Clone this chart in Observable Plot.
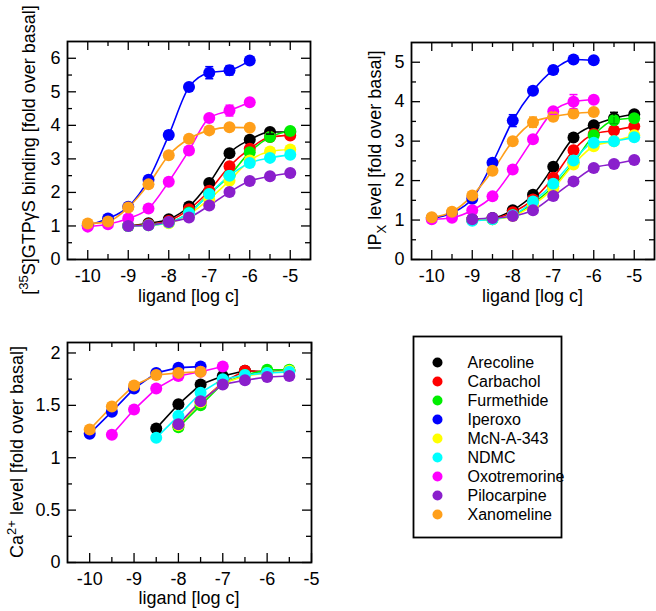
<!DOCTYPE html>
<html><head><meta charset="utf-8">
<script src="https://cdn.jsdelivr.net/npm/d3@7"></script>
<script src="https://cdn.jsdelivr.net/npm/@observablehq/plot@0.6"></script>
<style>
body{margin:0;background:#fff;}
#wrap{position:relative;width:656px;height:611px;font-family:"Liberation Sans",Arial,sans-serif;}
#wrap svg{position:absolute;max-width:none;}
</style></head><body><div id="wrap"></div>
<script>
const ligands = ["Arecoline","Carbachol","Furmethide","Iperoxo","McN-A-343","NDMC","Oxotremorine","Pilocarpine","Xanomeline"];
const colors = ["#000000","#ff0000","#00ee00","#0000ff","#ffff00","#00ffff","#ff00ff","#8a1fcc","#ff9f1a"];
const xs = [-10,-9.5,-9,-8.5,-8,-7.5,-7,-6.5,-6,-5.5,-5];

// [35S]GTPγS binding (fold over basal)
const gtpBinding = {
  "Arecoline":    [null,null,1.00,1.08,1.20,1.58,2.28,3.17,3.57,3.80,3.80],
  "Carbachol":    [null,null,1.00,1.05,1.15,1.50,2.05,2.78,3.30,3.65,3.70],
  "Furmethide":   [null,null,1.00,1.03,1.10,1.40,1.95,2.50,3.20,3.65,3.83],
  "Iperoxo":      [1.02,1.22,1.57,2.38,3.71,5.14,5.57,5.64,5.93,null,null],
  "McN-A-343":    [null,null,1.00,1.02,1.08,1.35,1.80,2.35,2.95,3.22,3.28],
  "NDMC":         [null,null,1.00,1.02,1.10,1.38,1.95,2.50,2.88,3.03,3.12],
  "Oxotremorine": [0.98,1.05,1.22,1.52,2.32,3.25,4.22,4.44,4.69,null,null],
  "Pilocarpine":  [null,null,1.00,1.02,1.12,1.25,1.61,2.01,2.34,2.48,2.58],
  "Xanomeline":   [1.07,1.13,1.55,2.24,3.11,3.60,3.85,3.94,3.93,null,null]
};
const gtpErrors = [["Iperoxo",-8,0.12],["Iperoxo",-7,0.18],["Iperoxo",-6.5,0.14],["Oxotremorine",-6.5,0.16],["Xanomeline",-7,0.08],["Xanomeline",-6.5,0.08],["Carbachol",-6.5,0.08],["Furmethide",-5,0.08],["Arecoline",-5.5,0.06]];

// IPX level (fold over basal)
const ipLevel = {
  "Arecoline":    [null,null,1.02,1.05,1.25,1.64,2.35,3.09,3.40,3.58,3.68],
  "Carbachol":    [null,null,1.00,1.03,1.20,1.52,2.07,2.77,3.18,3.27,3.38],
  "Furmethide":   [null,null,1.00,1.02,1.12,1.42,1.85,2.45,3.15,3.53,3.58],
  "Iperoxo":      [1.05,1.18,1.54,2.45,3.52,4.28,4.80,5.07,5.05,null,null],
  "McN-A-343":    [null,null,1.00,1.02,1.10,1.38,1.80,2.41,2.87,3.00,3.15],
  "NDMC":         [null,null,0.98,1.02,1.12,1.47,1.92,2.51,2.96,3.00,3.10],
  "Oxotremorine": [1.02,1.06,1.25,1.60,2.28,3.05,3.76,4.00,4.05,null,null],
  "Pilocarpine":  [null,null,1.02,1.05,1.10,1.25,1.61,1.98,2.32,2.42,2.52],
  "Xanomeline":   [1.07,1.21,1.62,2.25,3.00,3.48,3.62,3.70,3.74,null,null]
};
const ipErrors = [["Iperoxo",-8,0.15],["Iperoxo",-7,0.1],["Iperoxo",-6.5,0.05],["Oxotremorine",-6.5,0.18],["Oxotremorine",-7,0.08],["Xanomeline",-7.5,0.13],["Xanomeline",-7,0.1],["Xanomeline",-6.5,0.1],["Xanomeline",-6,0.08],["Arecoline",-5.5,0.15],["Pilocarpine",-5.5,0.08],["Furmethide",-5.5,0.1]];

// Ca2+ level (fold over basal)
const caLevel = {
  "Arecoline":    [null,null,null,1.28,1.51,1.70,1.78,1.83,1.82,1.83,null],
  "Carbachol":    [null,null,null,null,1.31,1.53,1.72,1.83,1.82,1.83,null],
  "Furmethide":   [null,null,null,null,1.29,1.50,1.71,1.79,1.84,1.84,null],
  "Iperoxo":      [1.23,1.44,1.66,1.81,1.86,1.87,null,null,null,null,null],
  "McN-A-343":    [null,null,null,null,1.31,1.53,1.71,1.78,1.81,1.83,null],
  "NDMC":         [null,null,null,1.19,1.40,1.62,1.75,1.79,1.81,1.82,null],
  "Oxotremorine": [null,1.22,1.46,1.66,1.78,1.82,1.87,null,null,null,null],
  "Pilocarpine":  [null,null,null,null,1.32,1.54,1.70,1.74,1.77,1.78,null],
  "Xanomeline":   [1.27,1.49,1.69,1.79,1.81,1.82,null,null,null,null,null]
};
const caErrors = [];

const xMajorTicks = [-10,-9,-8,-7,-6,-5];
const xMinorTicks = [-9.5,-8.5,-7.5,-6.5,-5.5];

const FONT = "Liberation Sans, Arial, Helvetica, sans-serif";
const hline = {draw(ctx, size){ const r = Math.sqrt(size/Math.PI); ctx.moveTo(-r,0); ctx.lineTo(r,0); }};

function panel(o) {
  const rows = [];
  for (const lig of ligands) {
    const vals = o.data[lig]; if (!vals) continue;
    vals.forEach((v,i) => { if (v != null) rows.push({ligand: lig, x: xs[i], y: v}); });
  }
  const errRows = o.errors.map(([lig,x,e]) => { const y = o.data[lig][xs.indexOf(x)]; return {ligand: lig, x, y, lo: y-e, hi: y+e}; });
  const m = o.margin;
  const iw = o.width - m.left - m.right, ih = o.height - m.top - m.bottom;
  const fmt = d => String(d);
  const plot = Plot.plot({
    width: o.width, height: o.height,
    marginTop: m.top, marginRight: m.right, marginBottom: m.bottom, marginLeft: m.left,
    x: {domain: o.xDomain}, y: {domain: o.yDomain},
    color: {domain: ligands, range: colors},
    style: {fontSize: "18px", fontFamily: FONT, background: "transparent", overflow: "visible", color: "black"},
    marks: [
      Plot.tickY(o.yMajor, {y: d=>d, insetRight: iw-9, strokeWidth: 1.3}),
      Plot.tickY(o.yMajor, {y: d=>d, insetLeft: iw-9, strokeWidth: 1.3}),
      Plot.tickY(o.yMinor, {y: d=>d, insetRight: iw-5, strokeWidth: 1.3}),
      Plot.tickY(o.yMinor, {y: d=>d, insetLeft: iw-5, strokeWidth: 1.3}),
      Plot.tickX(o.xMajor, {x: d=>d, insetTop: ih-9, strokeWidth: 1.3}),
      Plot.tickX(o.xMajor, {x: d=>d, insetBottom: ih-9, strokeWidth: 1.3}),
      Plot.tickX(o.xMinor, {x: d=>d, insetTop: ih-5, strokeWidth: 1.3}),
      Plot.tickX(o.xMinor, {x: d=>d, insetBottom: ih-5, strokeWidth: 1.3}),
      Plot.frame({stroke: "black", strokeWidth: 1.8}),
      Plot.axisY(o.yMajor, {tickSize: 0, tickPadding: 7, tickFormat: fmt, label: null, fontSize: 18}),
      Plot.axisX(o.xMajor, {tickSize: 0, tickPadding: 10, tickFormat: fmt, label: null, fontSize: 18}),
      Plot.line(rows, {x: "x", y: "y", z: "ligand", stroke: "ligand", strokeWidth: 1.6, curve: o.curve}),
      Plot.dot(rows, {x: "x", y: "y", fill: "ligand", r: o.r}),
      Plot.ruleX(errRows, {x: "x", y1: "lo", y2: "hi", stroke: "ligand", strokeWidth: 1.5}),
      Plot.dot(errRows, {x: "x", y: "lo", stroke: "ligand", symbol: hline, r: 4, strokeWidth: 1.5}),
      Plot.dot(errRows, {x: "x", y: "hi", stroke: "ligand", symbol: hline, r: 4, strokeWidth: 1.5})
    ]
  });
  const svg = d3.select(plot);
  const t = svg.append("text")
    .attr("transform", `translate(${o.yLabelX},${m.top + ih/2}) rotate(-90)`)
    .attr("text-anchor", "middle").attr("font-size", 18).attr("font-family", FONT).attr("fill", "black");
  let shift = 0;
  for (const part of o.yLabel) {
    const ts = t.append("tspan").text(part.t);
    const target = part.sup ? -7 : part.sub ? 5 : 0;
    if (target !== shift) { ts.attr("dy", target - shift); shift = target; }
    if (part.sup || part.sub) ts.attr("font-size", 13);
  }
  svg.append("text")
    .attr("x", m.left + iw/2).attr("y", m.top + ih + o.xLabelOffset)
    .attr("text-anchor", "middle").attr("font-size", 18).attr("font-family", FONT).attr("fill", "black")
    .text("ligand [log c]");
  plot.style.left = o.left + "px";
  plot.style.top = o.top + "px";
  document.getElementById("wrap").appendChild(plot);
}

panel({
  data: gtpBinding, errors: gtpErrors, left: 0, top: 0, width: 328, height: 311,
  margin: {top: 41, right: 18, bottom: 52, left: 67},
  xDomain: [-10.5, -4.5], yDomain: [0, 6.5],
  yMajor: [0,1,2,3,4,5,6], yMinor: [0.5,1.5,2.5,3.5,4.5,5.5],
  xMajor: xMajorTicks, xMinor: xMinorTicks,
  curve: "monotone-x", r: 6,
  yLabel: [{t: "["}, {t: "35", sup: true}, {t: "S]GTPγS binding [fold over basal]"}],
  yLabelX: 35, xLabelOffset: 43
});

panel({
  data: ipLevel, errors: ipErrors, left: 328, top: 0, width: 328, height: 311,
  margin: {top: 42, right: 2, bottom: 52, left: 83},
  xDomain: [-10.5, -4.5], yDomain: [0, 5.5],
  yMajor: [0,1,2,3,4,5], yMinor: [0.5,1.5,2.5,3.5,4.5],
  xMajor: xMajorTicks, xMinor: xMinorTicks,
  curve: "monotone-x", r: 6,
  yLabel: [{t: "IP"}, {t: "X", sub: true}, {t: " level [fold over basal]"}],
  yLabelX: 53, xLabelOffset: 43
});

panel({
  data: caLevel, errors: caErrors, left: 0, top: 300, width: 328, height: 311,
  margin: {top: 42, right: 17, bottom: 49, left: 67},
  xDomain: [-10.5, -5], yDomain: [0, 2.1],
  yMajor: [0,0.5,1,1.5,2], yMinor: [0.25,0.75,1.25,1.75],
  xMajor: xMajorTicks, xMinor: xMinorTicks,
  curve: "linear", r: 6,
  yLabel: [{t: "Ca"}, {t: "2+", sup: true}, {t: " level [fold over basal]"}],
  yLabelX: 23, xLabelOffset: 42
});

const legend = Plot.plot({
  width: 148, height: 201, margin: 0,
  y: {type: "point", domain: ligands, range: [14, 189]},
  color: {domain: ligands, range: colors},
  axis: null,
  style: {fontFamily: FONT, background: "transparent", overflow: "visible", color: "black"},
  marks: [
    Plot.frame({stroke: "black", strokeWidth: 1.8}),
    Plot.dot(ligands, {y: d=>d, fill: d=>d, r: 5, frameAnchor: "left", dx: 24}),
    Plot.text(ligands, {y: d=>d, text: d=>d, frameAnchor: "left", dx: 54, textAnchor: "start", fontSize: 16, fill: "black"})
  ]
});
legend.style.left = "413px";
legend.style.top = "336px";
document.getElementById("wrap").appendChild(legend);
</script>
</body></html>
